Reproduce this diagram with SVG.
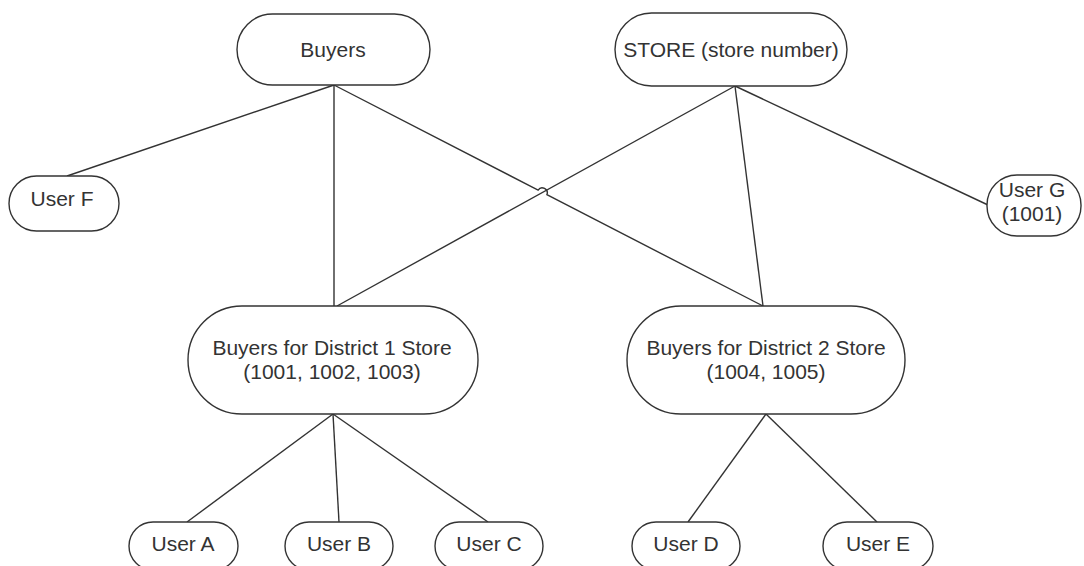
<svg xmlns="http://www.w3.org/2000/svg" width="1084" height="566" viewBox="0 0 1084 566">
<style>
.n{fill:#fff;stroke:#333;stroke-width:1.4}
.c{fill:none;stroke:#333;stroke-width:1.4}
text{font-family:"Liberation Sans",Arial,sans-serif;font-size:21px;fill:#333;text-anchor:middle}
</style>
<rect width="1084" height="566" fill="#fff"/>
<g id="connectors">
<path class="c" d="M334 85 L67 176"/>
<path class="c" d="M334 85 L334 306"/>
<path class="c" d="M334 85 L538.1 190.1 A5 5 0 0 1 546.9 194.7 L763 306"/>
<path class="c" d="M735 86 L337 306"/>
<path class="c" d="M735 86 L763 306"/>
<path class="c" d="M735 86 L988 205"/>
<path class="c" d="M333 414 L187 522"/>
<path class="c" d="M333 414 L339 522"/>
<path class="c" d="M333 414 L488 522"/>
<path class="c" d="M766 414 L688 522"/>
<path class="c" d="M766 414 L877 522"/>
</g>
<g id="buyers"><rect class="n" x="237" y="14" width="193" height="71" rx="35.5"/><text x="333" y="57">Buyers</text></g>
<g id="store"><rect class="n" x="615" y="13" width="232" height="73" rx="36.5"/><text x="731" y="57">STORE (store number)</text></g>
<g id="userF"><rect class="n" x="9" y="176" width="110" height="55" rx="27.5"/><text x="62" y="206">User F</text></g>
<g id="userG"><rect class="n" x="987" y="175" width="94" height="61" rx="30"/><text x="1032" y="197">User G</text><text x="1032" y="221">(1001)</text></g>
<g id="district1"><rect class="n" x="188" y="306" width="290" height="108" rx="54"/><text x="332" y="355">Buyers for District 1 Store</text><text x="332" y="379">(1001, 1002, 1003)</text></g>
<g id="district2"><rect class="n" x="627" y="306" width="278" height="108" rx="54"/><text x="766" y="355">Buyers for District 2 Store</text><text x="766" y="379">(1004, 1005)</text></g>
<g id="userA"><rect class="n" x="129" y="522" width="109" height="48" rx="24"/><text x="183" y="551">User A</text></g>
<g id="userB"><rect class="n" x="285" y="522" width="108" height="48" rx="24"/><text x="339" y="551">User B</text></g>
<g id="userC"><rect class="n" x="435" y="522" width="108" height="48" rx="24"/><text x="489" y="551">User C</text></g>
<g id="userD"><rect class="n" x="632" y="522" width="108" height="48" rx="24"/><text x="686" y="551">User D</text></g>
<g id="userE"><rect class="n" x="823" y="522" width="110" height="48" rx="24"/><text x="878" y="551">User E</text></g>
</svg>
